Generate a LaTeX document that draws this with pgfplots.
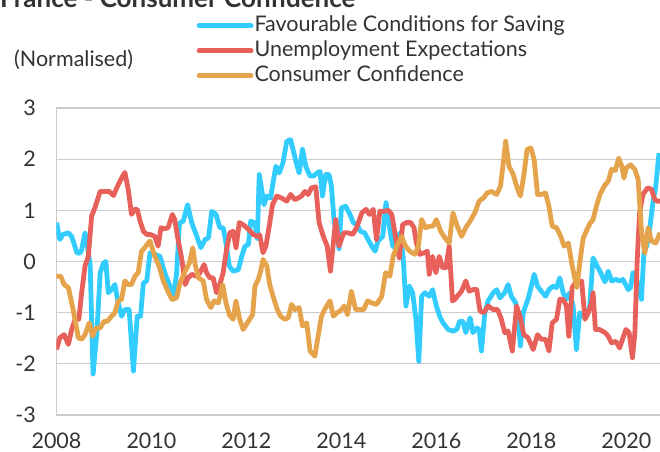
\documentclass[border=0pt]{standalone}
\usepackage{pgfplots}
\pgfplotsset{compat=1.18}
\usepackage{fontspec}
\setmainfont{Lato}
\definecolor{cblue}{RGB}{51,204,255}
\definecolor{cred}{RGB}{232,96,90}
\definecolor{corange}{RGB}{229,163,76}
\definecolor{cgrid}{RGB}{204,204,204}
\definecolor{ctext}{RGB}{51,51,51}

\pgfplotstableread{
year v
2008.00 0.76
2008.07 0.43
2008.14 0.53
2008.25 0.56
2008.32 0.49
2008.43 0.17
2008.49 0.16
2008.53 0.23
2008.60 0.56
2008.65 0.30
2008.71 -0.09
2008.77 -2.20
2008.85 -1.39
2008.92 -0.22
2008.99 -0.03
2009.04 0.00
2009.09 -0.61
2009.16 -0.55
2009.23 -0.45
2009.30 -0.81
2009.37 -1.07
2009.44 -0.94
2009.53 -0.94
2009.62 -2.14
2009.70 -1.07
2009.77 -1.07
2009.83 -0.42
2009.90 -0.38
2009.97 0.17
2010.07 0.14
2010.18 0.10
2010.28 -0.22
2010.39 -0.48
2010.46 -0.74
2010.53 -0.22
2010.59 0.75
2010.67 0.79
2010.76 1.11
2010.85 0.75
2010.94 0.53
2011.04 0.27
2011.13 0.43
2011.20 0.46
2011.27 0.98
2011.36 0.92
2011.44 0.66
2011.51 0.66
2011.58 0.30
2011.64 -0.09
2011.72 -0.19
2011.83 -0.16
2011.90 0.10
2011.97 0.30
2012.04 0.33
2012.09 0.79
2012.18 0.75
2012.23 0.45
2012.27 1.70
2012.32 1.41
2012.37 1.11
2012.43 1.28
2012.51 1.24
2012.56 1.54
2012.62 1.86
2012.69 1.73
2012.77 1.93
2012.85 2.35
2012.93 2.38
2013.00 2.12
2013.07 1.86
2013.11 1.73
2013.18 2.19
2013.25 1.86
2013.34 1.67
2013.41 1.67
2013.49 1.73
2013.55 1.76
2013.60 1.28
2013.67 1.70
2013.74 1.70
2013.79 1.47
2013.85 0.76
2013.90 0.59
2013.95 0.25
2014.00 1.05
2014.09 1.08
2014.18 0.92
2014.25 0.76
2014.33 0.72
2014.40 0.59
2014.49 0.56
2014.56 0.43
2014.64 0.30
2014.71 0.20
2014.77 0.40
2014.87 0.49
2014.94 1.15
2015.01 0.69
2015.08 0.30
2015.15 0.27
2015.23 0.56
2015.30 0.10
2015.36 -0.87
2015.43 -0.48
2015.50 -0.61
2015.57 -1.13
2015.63 -1.95
2015.69 -0.68
2015.76 -0.61
2015.85 -0.68
2015.92 -0.55
2016.00 -0.87
2016.07 -1.07
2016.14 -1.20
2016.25 -1.33
2016.35 -1.36
2016.43 -1.33
2016.49 -1.17
2016.56 -1.17
2016.62 -1.39
2016.71 -1.10
2016.77 -1.39
2016.85 -1.30
2016.90 -1.33
2016.95 -1.75
2017.02 -1.00
2017.09 -0.77
2017.20 -0.61
2017.27 -0.55
2017.34 -0.71
2017.44 -0.61
2017.51 -0.45
2017.58 -0.68
2017.67 -0.81
2017.72 -1.07
2017.77 -1.65
2017.83 -1.00
2017.90 -0.81
2017.93 -0.74
2018.00 -0.48
2018.06 -0.25
2018.13 -0.48
2018.21 -0.58
2018.30 -0.68
2018.37 -0.55
2018.46 -0.48
2018.53 -0.51
2018.60 -0.32
2018.67 -0.61
2018.74 -0.74
2018.81 -0.61
2018.88 -0.87
2018.95 -1.72
2019.02 -1.00
2019.09 -1.07
2019.16 -1.07
2019.23 -0.87
2019.30 0.07
2019.37 -0.06
2019.46 -0.22
2019.55 -0.40
2019.62 -0.19
2019.69 -0.38
2019.78 -0.35
2019.86 -0.38
2019.93 -0.35
2020.04 -0.55
2020.09 -0.51
2020.14 -0.22
2020.20 -0.25
2020.27 -0.58
2020.32 -0.74
2020.37 0.17
2020.43 0.30
2020.50 0.69
2020.56 1.15
2020.62 1.47
2020.69 2.12
}\saving

\pgfplotstableread{
year v
2008.00 -1.72
2008.07 -1.49
2008.16 -1.43
2008.25 -1.62
2008.32 -1.33
2008.39 -1.13
2008.47 -1.13
2008.53 -0.61
2008.60 -0.09
2008.67 0.10
2008.74 0.89
2008.81 1.05
2008.92 1.37
2009.02 1.37
2009.11 1.37
2009.20 1.29
2009.27 1.44
2009.37 1.63
2009.44 1.74
2009.51 1.41
2009.58 0.92
2009.65 1.02
2009.70 1.02
2009.76 0.79
2009.83 0.59
2009.90 0.53
2009.97 0.53
2010.07 0.49
2010.14 0.30
2010.20 0.66
2010.28 0.64
2010.35 0.66
2010.44 0.92
2010.49 0.82
2010.56 0.43
2010.64 0.04
2010.71 -0.45
2010.77 -0.32
2010.85 -0.25
2010.94 -0.29
2011.02 -0.22
2011.11 -0.06
2011.16 -0.22
2011.23 -0.32
2011.30 -0.32
2011.37 -0.61
2011.44 -0.45
2011.51 -0.22
2011.58 0.23
2011.65 0.56
2011.72 0.59
2011.78 0.27
2011.85 0.76
2011.93 0.72
2012.04 0.63
2012.14 0.53
2012.23 0.49
2012.28 0.52
2012.35 0.17
2012.41 0.30
2012.48 0.69
2012.55 1.11
2012.64 1.28
2012.74 1.24
2012.85 1.18
2012.93 1.31
2013.02 1.21
2013.09 1.24
2013.16 1.28
2013.23 1.37
2013.30 1.31
2013.37 1.44
2013.46 1.46
2013.53 0.76
2013.62 0.49
2013.70 0.30
2013.77 -0.19
2013.83 0.36
2013.88 0.82
2013.95 0.30
2014.05 0.56
2014.14 0.56
2014.24 0.53
2014.32 0.66
2014.43 0.95
2014.52 1.02
2014.59 0.92
2014.67 1.02
2014.74 0.43
2014.81 0.98
2014.89 0.98
2014.99 1.00
2015.06 0.92
2015.15 0.43
2015.22 0.07
2015.29 0.72
2015.37 0.76
2015.46 0.76
2015.53 0.66
2015.58 0.36
2015.65 0.14
2015.74 0.17
2015.81 0.20
2015.85 -0.25
2015.92 0.10
2015.99 -0.22
2016.06 0.10
2016.13 -0.12
2016.20 -0.12
2016.27 0.30
2016.34 -0.77
2016.39 -0.74
2016.44 -0.68
2016.53 -0.58
2016.62 -0.38
2016.69 -0.58
2016.77 -0.55
2016.85 -0.55
2016.92 -0.97
2017.00 -1.00
2017.09 -0.87
2017.20 -0.94
2017.29 -0.94
2017.37 -1.13
2017.44 -1.39
2017.51 -1.36
2017.60 -1.75
2017.69 -0.87
2017.77 -1.10
2017.84 -1.43
2017.93 -1.49
2018.04 -1.72
2018.13 -1.43
2018.21 -1.52
2018.30 -1.52
2018.37 -1.75
2018.44 -1.20
2018.53 -1.13
2018.60 -0.74
2018.67 -0.74
2018.74 -0.87
2018.79 -1.46
2018.86 -0.51
2018.92 -0.42
2018.99 -0.42
2019.06 -0.38
2019.13 -1.13
2019.20 -1.00
2019.27 -0.81
2019.30 -0.61
2019.35 -1.33
2019.44 -1.33
2019.55 -1.39
2019.62 -1.46
2019.69 -1.59
2019.78 -1.56
2019.86 -1.69
2019.92 -1.52
2019.99 -1.33
2020.06 -1.39
2020.13 -1.88
2020.18 -1.40
2020.23 0.04
2020.28 0.95
2020.35 1.31
2020.45 1.44
2020.53 1.41
2020.60 1.21
2020.65 1.18
2020.71 1.18
}\unemp

\pgfplotstableread{
year v
2008.00 -0.29
2008.09 -0.29
2008.16 -0.45
2008.25 -0.51
2008.32 -0.81
2008.39 -1.13
2008.46 -1.49
2008.53 -1.52
2008.60 -1.43
2008.69 -1.20
2008.76 -1.46
2008.83 -1.30
2008.92 -1.30
2009.00 -1.17
2009.07 -1.17
2009.16 -1.07
2009.23 -1.00
2009.30 -0.77
2009.37 -0.74
2009.44 -0.38
2009.51 -0.45
2009.58 -0.45
2009.65 -0.29
2009.72 -0.22
2009.79 0.20
2009.86 0.27
2009.93 0.36
2009.97 0.40
2010.07 0.10
2010.16 -0.09
2010.25 -0.38
2010.33 -0.55
2010.43 -0.74
2010.53 -0.71
2010.60 -0.42
2010.71 -0.19
2010.80 -0.03
2010.87 0.27
2010.92 -0.06
2010.99 -0.32
2011.09 -0.38
2011.16 -0.74
2011.25 -0.90
2011.32 -0.77
2011.41 -0.81
2011.50 -0.45
2011.57 -0.81
2011.64 -1.04
2011.72 -1.13
2011.78 -0.77
2011.85 -1.10
2011.93 -1.33
2012.04 -1.17
2012.13 -1.04
2012.18 -0.48
2012.25 -0.35
2012.30 -0.19
2012.35 0.04
2012.43 -0.09
2012.49 -0.45
2012.56 -0.68
2012.65 -0.94
2012.72 -1.07
2012.81 -1.13
2012.88 -1.10
2012.95 -0.84
2013.02 -0.94
2013.11 -0.90
2013.18 -1.26
2013.27 -1.20
2013.34 -1.75
2013.44 -1.85
2013.51 -1.46
2013.58 -1.07
2013.67 -0.90
2013.76 -0.77
2013.83 -1.07
2013.91 -1.00
2013.97 -0.97
2014.06 -0.87
2014.13 -1.04
2014.21 -0.58
2014.30 -0.94
2014.39 -0.94
2014.47 -0.94
2014.55 -0.77
2014.64 -0.81
2014.74 -0.84
2014.85 -0.68
2014.93 -0.22
2015.02 -0.29
2015.09 0.10
2015.18 0.33
2015.27 0.49
2015.35 0.30
2015.44 0.20
2015.55 0.14
2015.62 0.30
2015.69 0.82
2015.77 0.66
2015.86 0.69
2015.93 0.69
2016.00 0.82
2016.09 0.59
2016.18 0.46
2016.27 0.36
2016.35 0.95
2016.44 0.69
2016.53 0.49
2016.62 0.66
2016.71 0.79
2016.81 0.95
2016.90 1.18
2016.99 1.24
2017.07 1.34
2017.16 1.37
2017.27 1.31
2017.35 1.47
2017.41 1.93
2017.46 2.35
2017.53 1.86
2017.62 1.70
2017.70 1.44
2017.77 1.28
2017.84 1.67
2017.91 2.19
2017.99 2.22
2018.06 1.99
2018.13 1.31
2018.21 1.31
2018.30 1.34
2018.37 1.08
2018.44 0.69
2018.53 0.66
2018.62 0.49
2018.69 0.30
2018.78 0.36
2018.85 -0.03
2018.92 -0.35
2018.96 -0.51
2019.02 -0.03
2019.09 0.45
2019.17 0.62
2019.24 0.75
2019.30 0.82
2019.37 1.08
2019.45 1.32
2019.54 1.48
2019.62 1.57
2019.69 1.80
2019.77 1.78
2019.84 2.02
2019.91 1.85
2019.95 1.63
2020.00 1.83
2020.09 1.89
2020.18 1.80
2020.25 1.60
2020.32 0.59
2020.39 0.17
2020.46 0.66
2020.53 0.40
2020.62 0.36
2020.71 0.56
}\confidence

\begin{document}
\fontsize{21.5bp}{26bp}\selectfont
\begin{tikzpicture}
\begin{axis}[
  at={(56.5bp,37bp)}, anchor=south west,
  scale only axis, width=603.5bp, height=307bp,
  xmin=2008, xmax=2020.71, ymin=-3, ymax=3,
  xtick={2008,2010,2012,2014,2016,2018,2020},
  xticklabels={2008,2010,2012,2014,2016,2018,2020},
  ytick={-3,-2,-1,0,1,2,3},
  yticklabels={-3,-2,-1,0,1,2,3},
  major tick length=0pt,
  tick style={draw=none},
  axis x line*=bottom, axis y line*=left,
  axis line style={cgrid, line width=1.3bp, -},
  ymajorgrids, grid style={cgrid, line width=1.3bp},
  ticklabel style={text=ctext, inner sep=0pt},
  xticklabel style={anchor=north, yshift=-18bp},
  yticklabel style={anchor=east, xshift=-20.5bp},
  legend cell align=left,
  legend image code/.code={\draw[#1, line cap=round] (0bp,0bp) -- (52bp,0bp);},
  legend style={at={(axis description cs:0.232,1.305)}, anchor=north west,
    draw=none, fill=none, inner sep=0pt, row sep=2.5bp,
    nodes={inner sep=1bp, text height=16bp, text depth=4.5bp, text=ctext}},
  every axis plot/.append style={line width=4.8bp, line join=round},
]
\addplot[cblue] table[x=year, y=v] {\saving};
\addlegendentry{Favourable Conditions for Saving}
\addplot[cred] table[x=year, y=v] {\unemp};
\addlegendentry{Unemployment Expectations}
\addplot[corange] table[x=year, y=v] {\confidence};
\addlegendentry{Consumer Confidence}
\end{axis}
\node[anchor=west, inner sep=0pt, text=ctext] at (14bp,392bp) {(Normalised)};
\node[anchor=base west, inner sep=0pt, text=ctext, font=\bfseries\fontsize{26bp}{30bp}\selectfont] at (0bp,444bp) {France - Consumer Confidence};
\pgfresetboundingbox
\path[use as bounding box] (0bp,0bp) rectangle (660bp,452bp);
\end{tikzpicture}
\end{document}
